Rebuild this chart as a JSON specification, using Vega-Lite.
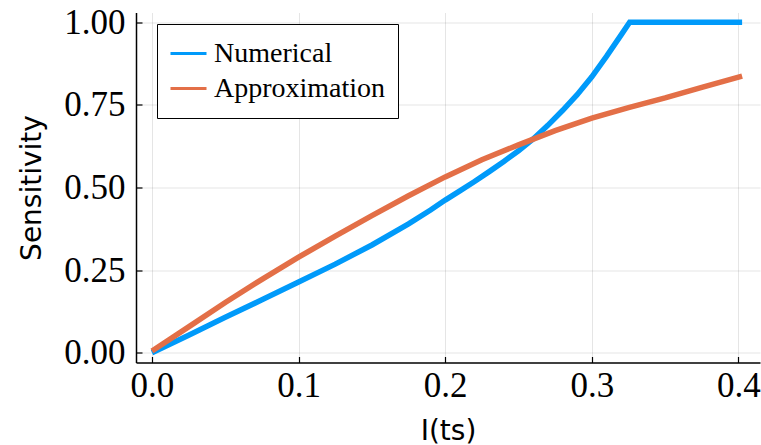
{
  "$schema": "https://vega.github.io/schema/vega-lite/v6.json",
  "width": 624,
  "height": 350,
  "autosize": {"type": "none"},
  "padding": {"left": 136, "top": 12.5, "right": 1, "bottom": 82.5},
  "background": "white",
  "config": {"view": {"stroke": null}},
  "data": {"values": [
    {"x": 0.0, "y": 0.0, "series": "Numerical"},
    {"x": 0.025, "y": 0.053, "series": "Numerical"},
    {"x": 0.05, "y": 0.107, "series": "Numerical"},
    {"x": 0.075, "y": 0.16, "series": "Numerical"},
    {"x": 0.1, "y": 0.214, "series": "Numerical"},
    {"x": 0.125, "y": 0.268, "series": "Numerical"},
    {"x": 0.15, "y": 0.326, "series": "Numerical"},
    {"x": 0.175, "y": 0.39, "series": "Numerical"},
    {"x": 0.19, "y": 0.432, "series": "Numerical"},
    {"x": 0.2, "y": 0.462, "series": "Numerical"},
    {"x": 0.21, "y": 0.49, "series": "Numerical"},
    {"x": 0.22, "y": 0.518, "series": "Numerical"},
    {"x": 0.23, "y": 0.548, "series": "Numerical"},
    {"x": 0.24, "y": 0.579, "series": "Numerical"},
    {"x": 0.25, "y": 0.611, "series": "Numerical"},
    {"x": 0.26, "y": 0.647, "series": "Numerical"},
    {"x": 0.27, "y": 0.688, "series": "Numerical"},
    {"x": 0.28, "y": 0.733, "series": "Numerical"},
    {"x": 0.29, "y": 0.781, "series": "Numerical"},
    {"x": 0.3, "y": 0.835, "series": "Numerical"},
    {"x": 0.31, "y": 0.897, "series": "Numerical"},
    {"x": 0.32, "y": 0.962, "series": "Numerical"},
    {"x": 0.3258, "y": 1.0, "series": "Numerical"},
    {"x": 0.4025, "y": 1.0, "series": "Numerical"},
    {"x": 0.0, "y": 0.005, "series": "Approximation"},
    {"x": 0.025, "y": 0.078, "series": "Approximation"},
    {"x": 0.05, "y": 0.152, "series": "Approximation"},
    {"x": 0.075, "y": 0.222, "series": "Approximation"},
    {"x": 0.1, "y": 0.289, "series": "Approximation"},
    {"x": 0.125, "y": 0.353, "series": "Approximation"},
    {"x": 0.15, "y": 0.415, "series": "Approximation"},
    {"x": 0.175, "y": 0.475, "series": "Approximation"},
    {"x": 0.2, "y": 0.532, "series": "Approximation"},
    {"x": 0.225, "y": 0.584, "series": "Approximation"},
    {"x": 0.25, "y": 0.629, "series": "Approximation"},
    {"x": 0.275, "y": 0.672, "series": "Approximation"},
    {"x": 0.3, "y": 0.71, "series": "Approximation"},
    {"x": 0.325, "y": 0.742, "series": "Approximation"},
    {"x": 0.35, "y": 0.771, "series": "Approximation"},
    {"x": 0.375, "y": 0.803, "series": "Approximation"},
    {"x": 0.4025, "y": 0.837, "series": "Approximation"}
  ]},
  "mark": {"type": "line", "strokeWidth": 5.5, "clip": true},
  "encoding": {
    "x": {
      "field": "x", "type": "quantitative",
      "scale": {"domain": [-0.0109, 0.4147], "nice": false, "zero": false},
      "axis": {
        "values": [0, 0.1, 0.2, 0.3, 0.4], "format": ".1f",
        "title": "I(ts)", "titleFont": "DejaVu Sans", "titleFontSize": 28, "titleFontWeight": "normal", "titleColor": "black",
        "titleBaseline": "alphabetic", "titleX": 312, "titleY": 76.5, "titleAlign": "center",
        "labelFont": "Liberation Serif", "labelFontSize": 35, "labelColor": "black", "labelPadding": 12,
        "domainColor": "black", "domainWidth": 1.5, "tickColor": "black", "tickSize": -6, "tickWidth": 1.2,
        "grid": true, "gridColor": "black", "gridOpacity": 0.1, "gridWidth": 1,
        "labelFlush": false, "labelOverlap": false
      }
    },
    "y": {
      "field": "y", "type": "quantitative",
      "scale": {"domain": [-0.0297, 1.0297], "nice": false, "zero": false},
      "axis": {
        "values": [0, 0.25, 0.5, 0.75, 1], "format": ".2f",
        "title": "Sensitivity", "titleFont": "DejaVu Sans", "titleFontSize": 28, "titleFontWeight": "normal", "titleColor": "black",
        "titleBaseline": "alphabetic", "titleX": -96, "titleY": 175, "titleAngle": -90, "titleAlign": "center",
        "labelFont": "Liberation Serif", "labelFontSize": 35, "labelColor": "black", "labelPadding": 17,
        "domainColor": "black", "domainWidth": 1.5, "tickColor": "black", "tickSize": -6, "tickWidth": 1.2,
        "grid": true, "gridColor": "black", "gridOpacity": 0.1, "gridWidth": 1,
        "labelFlush": false, "labelOverlap": false
      }
    },
    "color": {
      "field": "series", "type": "nominal",
      "scale": {"domain": ["Numerical", "Approximation"], "range": ["#009AFA", "#E36F47"]},
      "legend": {
        "title": null, "orient": "none", "legendX": 21, "legendY": 11.5,
        "fillColor": "white", "strokeColor": "black", "padding": 12,
        "symbolType": "stroke", "symbolSize": 1296, "symbolStrokeWidth": 3,
        "labelFont": "Liberation Serif", "labelFontSize": 28, "labelColor": "black", "labelOffset": 6, "labelLimit": 0,
        "clipHeight": 35, "rowPadding": 0
      }
    }
  }
}
